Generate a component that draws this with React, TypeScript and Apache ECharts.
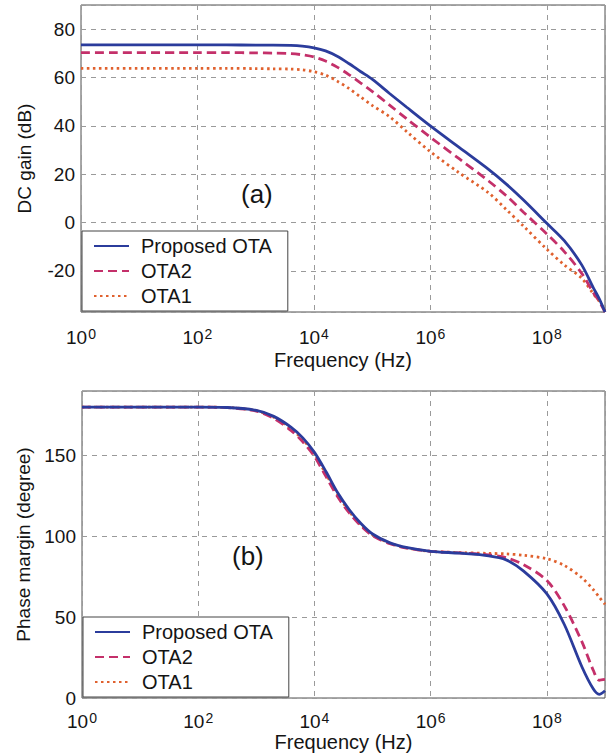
import React, { useEffect, useRef } from 'react';
import * as echarts from 'echarts';

// Frequency points (Hz)
const freqHz = [1, 100, 316, 1000, 1995, 3981, 6310, 1e4, 15849, 25119, 39811, 63096, 1e5, 199526, 398107, 1e6, 3162278, 1e7, 19952623, 39810717, 1e8, 199526231, 398107171, 630957344, 794328235, 1e9];

// (a) DC gain (dB)
const gainProposed = [73.5, 73.5, 73.5, 73.4, 73.4, 73.3, 73.0, 72.3, 71.0, 68.8, 65.8, 62.5, 59.3, 53.4, 47.6, 40.0, 31.0, 22.0, 16.0, 9.3, -0.3, -7.5, -17.5, -27.0, -31.5, -37.0];
const gainOTA2 = [70.3, 70.3, 70.3, 70.2, 70.1, 69.9, 69.4, 68.5, 66.8, 64.3, 61.2, 57.8, 54.3, 48.6, 42.8, 35.3, 26.3, 17.2, 11.2, 4.3, -4.7, -12.0, -21.0, -29.0, -32.5, -37.0];
const gainOTA1 = [63.8, 63.8, 63.8, 63.7, 63.6, 63.5, 63.2, 62.4, 61.0, 58.5, 55.5, 52.0, 48.5, 43.8, 37.5, 29.3, 20.5, 12.3, 5.5, -1.5, -11.0, -17.5, -23.0, -29.5, -32.5, -36.5];

// (b) Phase margin (degree)
const phaseProposed = [180, 180, 179.8, 178, 174.3, 167.5, 161, 152, 140, 127, 116.5, 108, 101.5, 96, 93, 90.8, 89.6, 88, 85.5, 78.5, 64.4, 45.5, 19.5, 5.5, 2.3, 4.5];
const phaseOTA2 = [180, 180, 179.7, 177.5, 173, 165.5, 158.5, 149.5, 137, 124.5, 114.5, 106.5, 100.5, 95.5, 92.7, 90.8, 89.8, 88.6, 86.8, 82.5, 72.7, 57, 35, 17, 11, 11.5];
const phaseOTA1 = [180, 180, 179.8, 177.8, 173.8, 166.5, 160, 151, 138.5, 126, 115.5, 107.3, 101, 95.8, 92.8, 90.8, 90, 89.5, 89.2, 88.3, 86.2, 82, 74.5, 67, 62.5, 58];

const seriesNames = ['Proposed OTA', 'OTA2', 'OTA1'];
const gainRange = [-37, 90];
const phaseRange = [0, 190];
const freqRange = [1, 1e9];

const FONT = '"Liberation Sans", Arial, sans-serif';
const TXT = '#141414';
const COLORS = ['#2b3c9c', '#c4306a', '#e0612e'];
const TYPES: any[] = ['solid', [9, 5], [2.5, 3.5]];

function pair(arr: number[]) {
  return freqHz.map((f, i) => [f, arr[i]]);
}

function xAxisCfg(gridIndex: number, nameGap: number, margin: number) {
  return {
    type: 'log',
    logBase: 10,
    gridIndex,
    min: freqRange[0],
    max: freqRange[1],
    interval: 2,
    name: 'Frequency (Hz)',
    nameLocation: 'middle',
    nameGap,
    nameTextStyle: { fontFamily: FONT, fontSize: 20, color: TXT },
    axisLine: { show: false },
    axisTick: { show: false },
    axisLabel: {
      margin,
      fontFamily: FONT,
      color: TXT,
      formatter: (v: number) => {
        const e = Math.round(Math.log10(v));
        if (e % 2 !== 0) return '';
        return '{b|10}{s|' + e + '}';
      },
      rich: {
        b: { fontFamily: FONT, fontSize: 19, color: TXT, lineHeight: 20, verticalAlign: 'bottom' },
        s: { fontFamily: FONT, fontSize: 14, color: TXT, lineHeight: 14, padding: [0, 0, 0, 1], verticalAlign: 'top' },
      },
    },
    splitLine: { show: true, lineStyle: { color: '#9a9a9a', type: [5, 5], width: 1 } },
  };
}

function yAxisCfg(gridIndex: number, name: string, range: number[], nameGap: number, extra: any) {
  return {
    type: 'value',
    gridIndex,
    min: range[0],
    max: range[1],
    name,
    nameLocation: 'middle',
    nameGap,
    nameTextStyle: { fontFamily: FONT, fontSize: 19, color: TXT },
    axisLine: { show: false },
    axisTick: { show: false },
    axisLabel: { fontFamily: FONT, fontSize: 19, color: TXT, margin: 6, showMinLabel: range[0] === 0, showMaxLabel: false },
    splitLine: { show: true, lineStyle: { color: '#9a9a9a', type: [5, 5], width: 1 } },
    ...extra,
  };
}

function legendCfg(top: number, left: number) {
  return {
    orient: 'vertical',
    left,
    top,
    data: seriesNames,
    itemWidth: 35,
    itemHeight: 14,
    itemGap: 5,
    padding: [5, 16, 5, 11],
    backgroundColor: '#ffffff',
    borderColor: '#444444',
    borderWidth: 1,
    borderRadius: 0,
    selectedMode: false,
    itemStyle: { opacity: 0 },
    textStyle: { fontFamily: FONT, fontSize: 20, lineHeight: 20, color: TXT, padding: [0, 0, 0, 7] },
  };
}

function lineSeries(name: string, idx: number, data: number[][], gridIdx: number) {
  return {
    type: 'line',
    name,
    xAxisIndex: gridIdx,
    yAxisIndex: gridIdx,
    data,
    symbol: 'none',
    smooth: 0.3,
    color: COLORS[idx],
    lineStyle: { color: COLORS[idx], width: 2.8, type: TYPES[idx] },
    z: 5 - idx,
  };
}

export default function App() {
  const ref = useRef<HTMLDivElement>(null);
  useEffect(() => {
    if (!ref.current) return;
    const chart = echarts.init(ref.current, undefined, { renderer: 'svg' });
    const gains = [gainProposed, gainOTA2, gainOTA1];
    const phases = [phaseProposed, phaseOTA2, phaseOTA1];
    chart.setOption({
      animation: false,
      backgroundColor: '#ffffff',
      grid: [
        { left: 81, top: 5, width: 524, height: 307, show: true, borderColor: '#505050', borderWidth: 1, backgroundColor: 'transparent' },
        { left: 82, top: 391, width: 523, height: 307, show: true, borderColor: '#505050', borderWidth: 1, backgroundColor: 'transparent' },
      ],
      xAxis: [xAxisCfg(0, 38, 15), xAxisCfg(1, 32, 13)],
      yAxis: [
        yAxisCfg(0, 'DC gain (dB)', gainRange, 47, { splitNumber: 6 }),
        yAxisCfg(1, 'Phase margin (degree)', phaseRange, 48, { interval: 50 }),
      ],
      legend: [legendCfg(231, 82), legendCfg(617, 83)],
      series: [
        ...gains.map((g, i) => lineSeries(seriesNames[i], i, pair(g), 0)),
        ...phases.map((p, i) => lineSeries(seriesNames[i], i, pair(p), 1)),
      ],
      graphic: [
        { type: 'text', left: 241, top: 181, style: { text: '(a)', fontFamily: FONT, fontSize: 26, fill: TXT } },
        { type: 'text', left: 232, top: 543, style: { text: '(b)', fontFamily: FONT, fontSize: 26, fill: TXT } },
      ],
    });
    return () => chart.dispose();
  }, []);
  return <div ref={ref} style={{ width: 610, height: 755, position: 'absolute', left: 0, top: 0 }} />;
}
